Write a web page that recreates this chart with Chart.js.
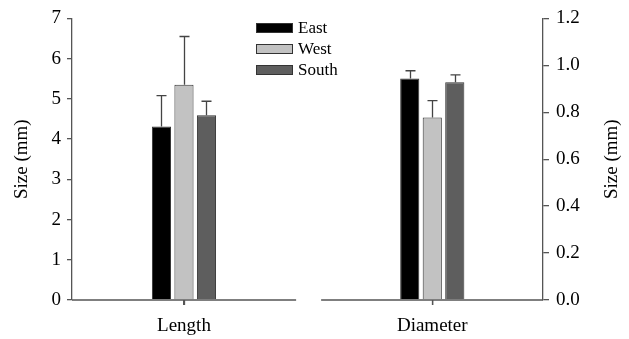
<!DOCTYPE html>
<html>
<head>
<meta charset="utf-8">
<script src="https://cdn.jsdelivr.net/npm/chart.js@4/dist/chart.umd.min.js"></script>
<style>
  html, body { margin: 0; padding: 0; background: #fff; }
  #wrap { width: 629px; height: 339px; }
</style>
</head>
<body>
<div id="wrap"><canvas id="chart" width="629" height="339"></canvas></div>
<script>
// Values
const categories = ["Length", "Diameter"];
const regions = ["East", "West", "South"];
const lengthMeans = [4.31, 5.35, 4.59];      // left axis
const lengthErrors = [0.77, 1.20, 0.35];
const diameterMeans = [0.944, 0.778, 0.928]; // right axis
const diameterErrors = [0.033, 0.072, 0.031];
const leftTicks = [0, 1, 2, 3, 4, 5, 6, 7];
const rightTicks = [0, 0.2, 0.4, 0.6, 0.8, 1.0, 1.2];

const fills = ["#000000", "#c2c2c2", "#5e5e5e"];
const edge = "#333333";
const axisColor = "#555555";
const serif = "'Liberation Serif', 'Times New Roman', 'DejaVu Serif', serif";

// one dataset per region and measure; nulls are skipped so bars stay grouped
const datasets = [];
regions.forEach((name, i) => {
    datasets.push({
        label: name,
        data: [{ x: 0, y: lengthMeans[i] }, { x: 1, y: null }],
        errors: [lengthErrors[i], null],
        yAxisID: "y",
        backgroundColor: fills[i],
        borderColor: edge,
        borderWidth: 1,
        inLegend: true,
    });
    datasets.push({
        label: name,
        data: [{ x: 0, y: null }, { x: 1, y: diameterMeans[i] }],
        errors: [null, diameterErrors[i]],
        yAxisID: "y2",
        backgroundColor: fills[i],
        borderColor: edge,
        borderWidth: 1,
        inLegend: false,
    });
});

const errorBars = {
    id: "errorBars",
    afterDatasetsDraw(chart) {
        const ctx = chart.ctx;
        ctx.save();
        ctx.strokeStyle = "#444444";
        ctx.lineWidth = 1.3;
        chart.data.datasets.forEach((ds, di) => {
            const meta = chart.getDatasetMeta(di);
            const scale = chart.scales[ds.yAxisID];
            meta.data.forEach((bar, j) => {
                const v = ds.data[j].y;
                const e = ds.errors[j];
                if (v == null || e == null) return;
                const x = Math.round(bar.x) + 0.5;
                const top = scale.getPixelForValue(v + e);
                ctx.beginPath();
                ctx.moveTo(x, bar.y);
                ctx.lineTo(x, top);
                ctx.moveTo(x - 5, top);
                ctx.lineTo(x + 5, top);
                ctx.stroke();
            });
        });
        ctx.restore();
    }
};

const decorations = {
    id: "decorations",
    afterDraw(chart) {
        const ctx = chart.ctx;
        const xs = chart.scales.x;
        const area = chart.chartArea;
        ctx.save();
        // broken baseline with category ticks
        const mid = xs.getPixelForValue(0.5);
        ctx.strokeStyle = axisColor;
        ctx.lineWidth = 1.3;
        ctx.beginPath();
        ctx.moveTo(area.left, area.bottom);
        ctx.lineTo(mid - 12, area.bottom);
        ctx.moveTo(mid + 13, area.bottom);
        ctx.lineTo(area.right, area.bottom);
        categories.forEach((c, i) => {
            const tx = Math.round(xs.getPixelForValue(i)) + 0.5;
            ctx.moveTo(tx, area.bottom);
            ctx.lineTo(tx, area.bottom + 5);
        });
        ctx.stroke();

        // right axis title, reading bottom to top
        ctx.fillStyle = "#000";
        ctx.font = "19px " + serif;
        ctx.textAlign = "center";
        ctx.textBaseline = "middle";
        ctx.translate(612, (area.top + area.bottom) / 2);
        ctx.rotate(-Math.PI / 2);
        ctx.fillText("Size (mm)", 0, 0);
        ctx.restore();

        // legend
        ctx.save();
        ctx.font = "17px " + serif;
        ctx.textBaseline = "middle";
        ctx.textAlign = "left";
        const shown = chart.data.datasets.filter(d => d.inLegend);
        shown.forEach((d, i) => {
            const cy = 28 + i * 21;
            ctx.fillStyle = d.backgroundColor;
            ctx.fillRect(256, cy - 5, 37, 10);
            ctx.strokeStyle = edge;
            ctx.lineWidth = 1;
            ctx.strokeRect(256.5, cy - 4.5, 36, 9);
            ctx.fillStyle = "#000";
            ctx.fillText(d.label, 298, cy + 1);
        });
        ctx.restore();
    }
};

new Chart(document.getElementById("chart"), {
    type: "bar",
    data: { datasets: datasets },
    options: {
        responsive: false,
        animation: false,
        skipNull: true,
        categoryPercentage: 0.272,
        barPercentage: 0.85,
        layout: { padding: { top: 15, left: 0, right: 0, bottom: 0 } },
        plugins: {
            legend: { display: false },
            tooltip: { enabled: false },
        },
        scales: {
            x: {
                type: "linear",
                offset: false,
                min: -0.451,
                max: 1.446,
                afterBuildTicks(scale) {
                    scale.ticks = categories.map((c, i) => ({ value: i }));
                },
                afterFit(scale) { scale.height = 39; },
                ticks: {
                    callback: (v) => categories[v],
                    color: "#000",
                    font: { family: serif, size: 19 },
                    padding: 10,
                    maxRotation: 0,
                },
                grid: {
                    offset: false,
                    drawOnChartArea: false,
                    drawTicks: true,
                    tickLength: 5,
                    color: axisColor,
                    lineWidth: 1.3,
                },
                border: { display: false },
            },
            y: {
                position: "left",
                min: 0,
                max: 7,
                afterBuildTicks(scale) {
                    scale.ticks = leftTicks.map(v => ({ value: v }));
                },
                afterFit(scale) { scale.width = 72; },
                ticks: {
                    color: "#000",
                    font: { family: serif, size: 19 },
                    padding: 6,
                },
                grid: {
                    drawOnChartArea: false,
                    tickLength: 5,
                    color: axisColor,
                    lineWidth: 1.3,
                },
                border: { display: true, color: axisColor, width: 1.3 },
                title: {
                    display: true,
                    text: "Size (mm)",
                    color: "#000",
                    font: { family: serif, size: 19 },
                    padding: { top: 11, bottom: 0 },
                },
            },
            y2: {
                position: "right",
                min: 0,
                max: 1.2,
                afterBuildTicks(scale) {
                    scale.ticks = rightTicks.map(v => ({ value: v }));
                },
                afterFit(scale) { scale.width = 86; },
                ticks: {
                    color: "#000",
                    font: { family: serif, size: 19 },
                    padding: 7,
                    callback: (v) => Number(v).toFixed(1),
                },
                grid: {
                    drawOnChartArea: false,
                    tickLength: 6,
                    color: axisColor,
                    lineWidth: 1.3,
                },
                border: { display: true, color: axisColor, width: 1.3 },
            },
        },
    },
    plugins: [errorBars, decorations],
});
</script>
</body>
</html>
